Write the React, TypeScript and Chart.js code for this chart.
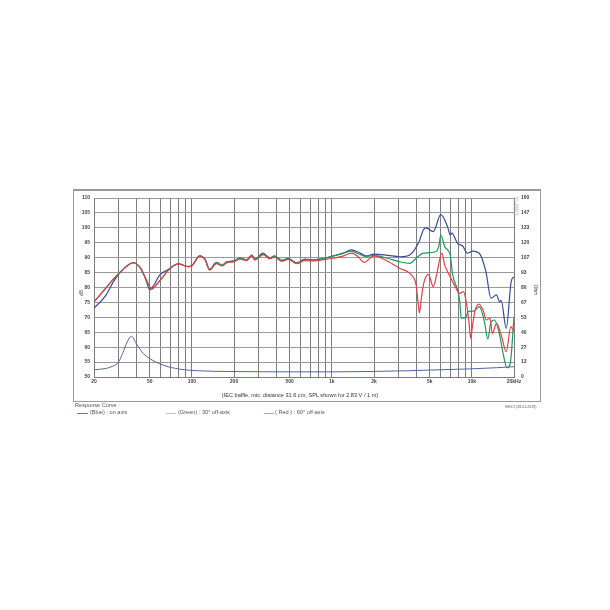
import React, { useEffect, useRef } from "react";
import { Chart, registerables } from "chart.js";

Chart.register(...registerables);

// ---- data ----
const blueFreq = [20, 24, 28, 33, 38, 43, 47, 50, 53, 59, 67, 80, 94, 100, 114, 124, 134, 150, 164, 178, 199, 221, 246, 268, 282, 323, 360, 390, 437, 488, 562, 640, 735, 826, 900, 1020, 1200, 1380, 1550, 1760, 2000, 2500, 3070, 3600, 4200, 4500, 4700, 5300, 6000, 6700, 7000, 7200, 7900, 8600, 9300, 10100, 11300, 12600, 13700, 15000, 15800, 16200, 17600, 19100, 20000];
const blueDb = [73.1, 77, 82.5, 86.5, 88.3, 86.5, 82.5, 79.3, 80.5, 84.2, 85.9, 87.9, 87.0, 87.3, 90.6, 89.5, 86.1, 88.4, 87.5, 88.6, 88.9, 89.8, 89.2, 90.9, 89.5, 91.5, 89.8, 90.6, 89.0, 89.8, 88.1, 89.5, 89.2, 89.5, 89.8, 90.6, 91.5, 92.6, 91.8, 90.6, 91.2, 90.8, 90.3, 90.9, 95.4, 99.3, 100, 98.7, 104.4, 100.4, 97.6, 98.2, 94.8, 93.9, 91.5, 92.2, 91.5, 85.3, 76.4, 77.5, 75.2, 75.7, 66.3, 82, 83.6];

const greenFreq = [20, 24, 28, 33, 38, 43, 47, 52, 56, 62, 67, 80, 94, 100, 114, 124, 134, 150, 164, 178, 199, 221, 246, 268, 282, 323, 360, 390, 437, 488, 562, 640, 735, 826, 900, 1020, 1200, 1380, 1550, 1760, 2000, 2500, 3070, 3600, 4100, 4500, 5500, 5800, 6000, 6400, 7000, 7300, 7900, 8200, 8400, 9000, 9400, 10300, 11300, 12300, 13000, 13700, 14500, 15600, 16800, 17800, 18800, 20000];
const greenDb = [75.2, 79.5, 83.2, 86.5, 88.3, 86.5, 82.8, 79.5, 81, 83.5, 85.5, 87.9, 87.0, 87.3, 90.6, 89.5, 86.0, 88.3, 87.4, 88.6, 88.9, 89.9, 89.3, 90.9, 89.6, 91.3, 90.0, 90.4, 89.2, 89.6, 88.3, 89.3, 89.3, 89.6, 89.8, 90.5, 91.4, 92.2, 91.3, 90.3, 90.8, 89.8, 88.6, 88.1, 90.3, 91.5, 92, 93.7, 97.6, 93.7, 90.9, 84.2, 79.2, 75.2, 69.7, 69.8, 71.9, 72.1, 73.6, 68.5, 62.7, 68.5, 69.1, 65.2, 57.4, 53.1, 54.6, 70.2];

const redFreq = [20, 24, 28, 33, 38, 43, 47, 52, 56, 62, 67, 80, 94, 100, 114, 124, 134, 150, 164, 178, 199, 221, 246, 268, 282, 323, 360, 390, 437, 488, 562, 640, 735, 826, 900, 1020, 1200, 1380, 1550, 1700, 2000, 2500, 3070, 3700, 4000, 4150, 4220, 4350, 4500, 4900, 5300, 5600, 6100, 6400, 7000, 7500, 8200, 8700, 9200, 9600, 9800, 10100, 10500, 11200, 12000, 12700, 13500, 14000, 15000, 16300, 17600, 19000, 20000];
const redDb = [75.2, 79.5, 83.2, 86.5, 88.3, 86.5, 82.8, 79.5, 81, 83.5, 85.5, 87.9, 87.0, 87.3, 90.5, 89.4, 85.8, 88.0, 87.2, 88.3, 88.6, 89.5, 89.0, 90.5, 89.2, 91.0, 89.6, 90.2, 88.8, 89.4, 88.0, 89.0, 88.9, 89.2, 89.4, 89.8, 90.5, 91.5, 90.2, 88.4, 90.6, 88.8, 86.4, 84.2, 80.8, 74, 71.5, 76, 80.8, 84.4, 80.3, 84.2, 91.5, 87.5, 83.6, 80.8, 78, 78.6, 74.1, 67, 63, 67, 71.9, 74.4, 72.5, 69.1, 69.7, 64.6, 68, 63.6, 58.5, 66.9, 65.2];

const impFreq = [20, 24, 27, 30, 32, 34.6, 37, 40, 45, 50, 62, 82, 114, 167, 300, 500, 1000, 2000, 3500, 5000, 10000, 15000, 20000];
const impOhm = [6.5, 7.5, 9.5, 13.5, 21, 31.5, 36.5, 30, 21, 16.5, 10.7, 7, 5.5, 5.0, 4.7, 4.6, 4.6, 5.0, 5.6, 6.2, 7.3, 8.3, 9.2];

const gridFreqs = [20, 30, 40, 50, 60, 70, 80, 90, 100, 200, 300, 400, 500, 600, 700, 800, 900, 1000, 2000, 3000, 4000, 5000, 6000, 7000, 8000, 9000, 10000, 20000];
const freqLabels: Record<number, string> = { 20: "20", 50: "50", 100: "100", 200: "200", 500: "500", 1000: "1k", 2000: "2k", 5000: "5k", 10000: "10k", 20000: "20kHz" };
const rightLabels = ["0", "13", "27", "40", "53", "67", "80", "93", "107", "120", "133", "147", "160"];

const zip = (xs: number[], ys: number[]) => xs.map((x, i) => ({ x, y: ys[i] }));

const tickFont = { family: "Liberation Sans", size: 5, weight: "bold" as const };

export default function App() {
  const ref = useRef<HTMLCanvasElement>(null);
  useEffect(() => {
    if (!ref.current) return;
    const lineDs = (label: string, data: any[], color: string, axis = "y", w = 1.2) => ({
      label,
      data,
      borderColor: color,
      backgroundColor: color,
      borderWidth: w,
      pointRadius: 0,
      fill: false,
      cubicInterpolationMode: "monotone" as const,
      yAxisID: axis,
    });
    const chart = new Chart(ref.current, {
      type: "line",
      data: {
        datasets: [
          lineDs("Impedance", zip(impFreq, impOhm), "#56649e", "y2", 1),
          lineDs("Red 60°", zip(redFreq, redDb), "#e0414b"),
          lineDs("Green 30°", zip(greenFreq, greenDb), "#1e9a5e"),
          lineDs("Blue on axis", zip(blueFreq, blueDb), "#3b4c96"),
        ],
      },
      options: {
        animation: false,
        responsive: false,
        devicePixelRatio: 1,
        layout: { padding: { top: 198, left: 0, right: 0, bottom: 0 } },
        plugins: { legend: { display: false }, tooltip: { enabled: false } },
        scales: {
          x: {
            type: "logarithmic",
            min: 20,
            max: 20000,
            afterBuildTicks: (s: any) => {
              s.ticks = gridFreqs.map((v) => ({ value: v }));
            },
            afterFit: (s: any) => {
              s.height = 233;
            },
            ticks: {
              autoSkip: false,
              maxRotation: 0,
              padding: 2,
              color: "#444",
              font: tickFont,
              callback: (v: any) => freqLabels[Number(v)] ?? "",
            },
            grid: { color: "#7d7d7d", lineWidth: 1, drawTicks: false },
            border: { color: "#7d7d7d" },
          },
          y: {
            position: "left",
            min: 50,
            max: 110,
            afterBuildTicks: (s: any) => {
              const t = [];
              for (let v = 50; v <= 110; v += 5) t.push({ value: v });
              s.ticks = t;
            },
            afterFit: (s: any) => {
              s.width = 94;
            },
            ticks: { padding: 4, color: "#444", font: tickFont },
            grid: { color: "#9a9a9a", lineWidth: 1, drawTicks: false },
            border: { color: "#7d7d7d" },
          },
          y2: {
            position: "right",
            min: 0,
            max: 160,
            afterBuildTicks: (s: any) => {
              s.ticks = rightLabels.map((_, i) => ({ value: (i * 160) / 12 }));
            },
            afterFit: (s: any) => {
              s.width = 96;
            },
            ticks: {
              padding: 7,
              color: "#444",
              font: tickFont,
              callback: (_v: any, i: number) => rightLabels[i],
            },
            grid: { display: false, drawTicks: false },
            border: { color: "#7d7d7d" },
          },
        },
      },
    });
    return () => chart.destroy();
  }, []);

  const txt: React.CSSProperties = {
    position: "absolute",
    fontFamily: "Liberation Sans, Arial, sans-serif",
    color: "#444",
    whiteSpace: "nowrap",
    lineHeight: 1,
  };

  return (
    <div style={{ position: "absolute", left: 0, top: 0, width: 610, height: 610, background: "#fff" }}>
      <div
        style={{
          position: "absolute",
          left: 73,
          top: 189,
          width: 466,
          height: 210,
          borderLeft: "1px solid #9a9a9a",
          borderRight: "1px solid #9a9a9a",
          borderBottom: "1px solid #9a9a9a",
          borderTop: "2px solid #999",
        }}
      />
      <canvas ref={ref} width={610} height={610} style={{ position: "absolute", left: 0, top: 0 }} />
      <div style={{ ...txt, left: 81, top: 293, fontSize: 5, transform: "translate(-50%,-50%) rotate(-90deg)" }}>dB</div>
      <div style={{ ...txt, left: 535, top: 290, fontSize: 5, transform: "translate(-50%,-50%) rotate(90deg)" }}>Ohm</div>
      <div style={{ ...txt, left: 516, top: 206, fontSize: 7, color: "#b0b0b0", transform: "translate(-50%,-50%) rotate(-90deg)" }}>DBFS</div>
      <div style={{ ...txt, left: 300, top: 396, fontSize: 5.6, color: "#333", transform: "translate(-50%,-50%)" }}>
        (IEC baffle, mic. distance 31.6 cm, SPL shown for 2.83 V / 1 m)
      </div>
      <div style={{ ...txt, left: 75, top: 406, fontSize: 5.6, color: "#555", transform: "translateY(-50%)" }}>Response Curve :</div>
      <div style={{ ...txt, left: 505, top: 408, fontSize: 3.6, color: "#555", transform: "translateY(-50%)" }}>REV.2 (28.01.2019)</div>
      <div style={{ position: "absolute", left: 77, top: 413, width: 11, height: 1, background: "#6a78ad" }} />
      <div style={{ ...txt, left: 90, top: 413, fontSize: 5.6, color: "#555", transform: "translateY(-50%)" }}>(Blue)  : on axis</div>
      <div style={{ position: "absolute", left: 166, top: 413, width: 10, height: 1, background: "#c6cd8c" }} />
      <div style={{ ...txt, left: 178, top: 413, fontSize: 5.6, color: "#555", transform: "translateY(-50%)" }}>(Green) : 30° off-axis</div>
      <div style={{ position: "absolute", left: 264, top: 413, width: 10, height: 1, background: "#e88d9b" }} />
      <div style={{ ...txt, left: 275, top: 413, fontSize: 5.6, color: "#555", transform: "translateY(-50%)" }}>( Red ) : 60° off-axis</div>
    </div>
  );
}
